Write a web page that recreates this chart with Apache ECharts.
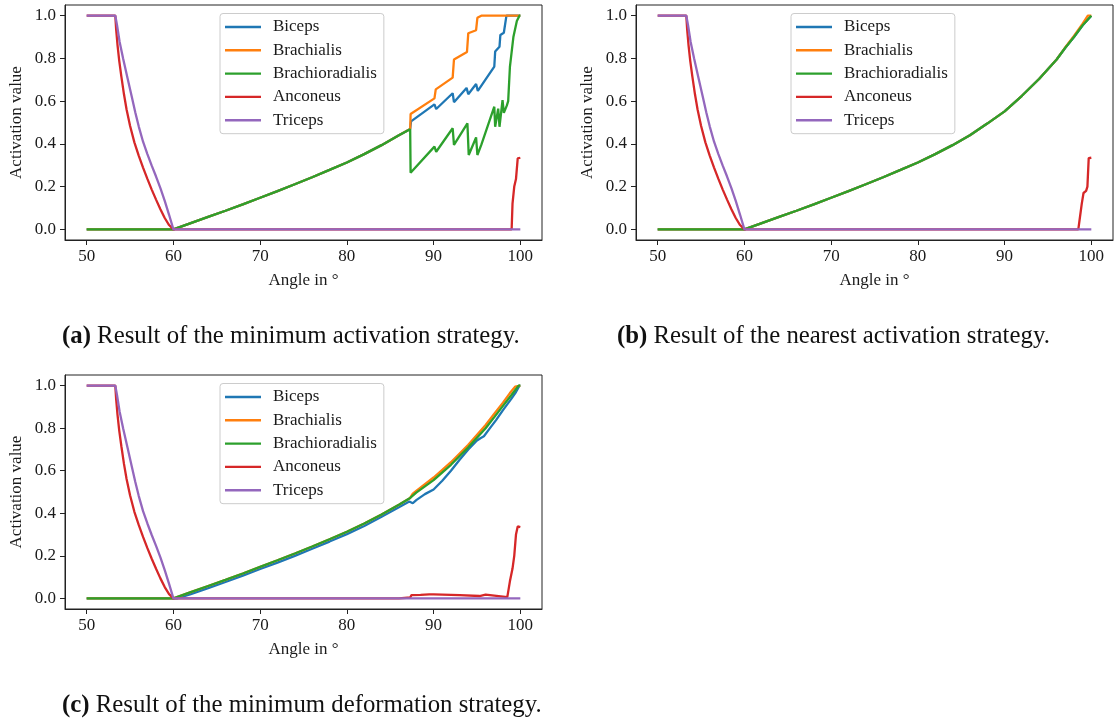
<!DOCTYPE html>
<html>
<head>
<meta charset="utf-8">
<title>Muscle activation strategies</title>
<script src="https://cdn.jsdelivr.net/npm/echarts@6/dist/echarts.min.js"></script>
<style>
  html, body { margin: 0; padding: 0; background: #ffffff; }
  #chart { width: 1115px; height: 722px; }
</style>
</head>
<body>
<div id="chart"></div>
<script>
// ---- tick labels & names ----
const muscles = ['Biceps', 'Brachialis', 'Brachioradialis', 'Anconeus', 'Triceps'];
const colors = ['#1f77b4', '#ff7f0e', '#2ca02c', '#d62728', '#9467bd'];
const angleTicks = [50, 60, 70, 80, 90, 100];
const activationTicks = [0, 0.2, 0.4, 0.6, 0.8, 1.0];
const captions = [
  ['(a)', ' Result of the minimum activation strategy.'],
  ['(b)', ' Result of the nearest activation strategy.'],
  ['(c)', ' Result of the minimum deformation strategy.']
];

// ---- extensors: shared decline from full activation to zero ----
const tricepsAngle = [50, 53.3, 53.5, 53.8, 54.2, 54.7, 55.2, 55.6, 56.0, 56.5, 57.0, 57.5, 58.0, 58.5, 59.0, 59.5, 60, 100];
const tricepsValue = [1, 1, 0.955, 0.877, 0.8, 0.71, 0.62, 0.548, 0.482, 0.41, 0.352, 0.298, 0.247, 0.193, 0.133, 0.068, 0, 0];
const anconeusDropAngle = [50, 53.3, 53.4, 53.55, 53.75, 54.0, 54.3, 54.6, 55.0, 55.5, 56.0, 56.5, 57.0, 57.5, 58.0, 58.5, 59.0, 59.5, 60];
const anconeusDropValue = [1, 1, 0.935, 0.865, 0.79, 0.715, 0.632, 0.561, 0.485, 0.407, 0.345, 0.289, 0.236, 0.186, 0.139, 0.094, 0.053, 0.02, 0];

// ---- flexors: shared rise after 60 degrees ----
const riseAngle = [50, 60, 62, 64, 66, 68, 70, 72, 74, 76, 78, 80, 82, 84, 86];
const riseValue = [0, 0, 0.029, 0.058, 0.087, 0.117, 0.148, 0.179, 0.211, 0.244, 0.278, 0.313, 0.352, 0.394, 0.44];

// ---- (a) minimum activation ----
const bicepsTailAngleA = [87.3, 87.4, 90.1, 90.3, 92.2, 92.35, 93.8, 94.0, 94.9, 95.1, 96.0, 97.0, 97.1, 97.6, 97.7, 98.1, 98.4, 100];
const bicepsTailValueA = [0.47, 0.505, 0.585, 0.563, 0.637, 0.595, 0.662, 0.632, 0.68, 0.648, 0.702, 0.762, 0.832, 0.855, 0.91, 0.92, 1.0, 1.0];
const brachialisTailAngleA = [87.3, 87.35, 90.1, 90.25, 92.2, 92.35, 93.85, 94.0, 94.9, 95.05, 95.5, 100];
const brachialisTailValueA = [0.47, 0.54, 0.613, 0.655, 0.71, 0.795, 0.83, 0.918, 0.932, 0.99, 1.0, 1.0];
const brachioTailAngleA = [87.3, 87.35, 90.1, 90.3, 92.2, 92.35, 93.9, 94.05, 94.9, 95.05, 95.5, 97.0, 97.1, 97.45, 97.6, 97.95, 98.1, 98.45, 98.6, 98.8, 99.2, 99.6, 99.9, 100];
const brachioTailValueA = [0.468, 0.265, 0.387, 0.363, 0.473, 0.395, 0.496, 0.348, 0.43, 0.348, 0.395, 0.574, 0.48, 0.565, 0.48, 0.605, 0.545, 0.58, 0.6, 0.76, 0.9, 0.975, 1.0, 1.0];
const anconeusTailAngleA = [99.0, 99.1, 99.3, 99.5, 99.7, 100];
const anconeusTailValueA = [0, 0.12, 0.2, 0.235, 0.332, 0.335];

// ---- (b) nearest activation ----
const flexorTailAngleB = [88, 90, 92, 94, 96, 97, 98, 99, 100];
const flexorTailValueB = [0.495, 0.552, 0.625, 0.705, 0.795, 0.85, 0.9, 0.955, 1.0];
const brachialisTailAngleB = [88, 90, 92, 94, 96, 97, 98, 99, 99.6, 100];
const brachialisTailValueB = [0.495, 0.552, 0.625, 0.705, 0.795, 0.852, 0.905, 0.963, 1.0, 1.0];
const anconeusTailAngleB = [98.5, 98.7, 98.9, 99.1, 99.4, 99.55, 99.7, 100];
const anconeusTailValueB = [0, 0.06, 0.12, 0.17, 0.18, 0.2, 0.333, 0.335];

// ---- (c) minimum deformation ----
const bicepsAngleC = [50, 60, 60.4, 62, 64, 66, 68, 70, 72, 74, 76, 78, 80, 82, 84, 86, 87.2, 87.6, 88, 89, 90, 91, 92, 93, 94, 95, 95.4, 95.8, 96.5, 97.2, 98, 99, 99.5, 99.9, 100];
const bicepsValueC = [0, 0, 0, 0.02, 0.048, 0.077, 0.107, 0.138, 0.168, 0.2, 0.233, 0.267, 0.302, 0.34, 0.384, 0.428, 0.455, 0.447, 0.462, 0.49, 0.512, 0.553, 0.6, 0.652, 0.7, 0.742, 0.753, 0.762, 0.8, 0.838, 0.885, 0.94, 0.97, 1.0, 1.0];
const brachialisTailAngleC = [87.3, 87.6, 88, 90, 92, 94, 96, 97, 98, 98.8, 99.4, 100];
const brachialisTailValueC = [0.472, 0.492, 0.505, 0.568, 0.64, 0.722, 0.815, 0.868, 0.92, 0.965, 0.995, 1.0];
const brachioTailAngleC = [87.3, 88, 90, 92, 94, 96, 97, 98, 99, 99.8, 100];
const brachioTailValueC = [0.472, 0.497, 0.556, 0.628, 0.71, 0.8, 0.852, 0.905, 0.957, 1.0, 1.0];
const anconeusTailAngleC = [86, 86.2, 87.3, 87.45, 88.5, 89.5, 90, 93, 95.3, 95.45, 96, 98.5, 98.8, 99.1, 99.3, 99.5, 99.7, 100];
const anconeusTailValueC = [0, 0.003, 0.004, 0.015, 0.016, 0.019, 0.019, 0.015, 0.011, 0.019, 0.018, 0.006, 0.08, 0.14, 0.2, 0.3, 0.338, 0.335];

// ---- helpers ----
function pairs(angles, values) { return angles.map((a, i) => [a, values[i]]); }
function join() {
  let out = [];
  for (let i = 0; i < arguments.length; i += 2) out = out.concat(pairs(arguments[i], arguments[i + 1]));
  return out;
}

const panels = [
  [ // (a)
    join(riseAngle, riseValue, bicepsTailAngleA, bicepsTailValueA),
    join(riseAngle, riseValue, brachialisTailAngleA, brachialisTailValueA),
    join(riseAngle, riseValue, brachioTailAngleA, brachioTailValueA),
    join(anconeusDropAngle, anconeusDropValue, anconeusTailAngleA, anconeusTailValueA),
    pairs(tricepsAngle, tricepsValue)
  ],
  [ // (b)
    join(riseAngle, riseValue, flexorTailAngleB, flexorTailValueB),
    join(riseAngle, riseValue, brachialisTailAngleB, brachialisTailValueB),
    join(riseAngle, riseValue, flexorTailAngleB, flexorTailValueB),
    join(anconeusDropAngle, anconeusDropValue, anconeusTailAngleB, anconeusTailValueB),
    pairs(tricepsAngle, tricepsValue)
  ],
  [ // (c)
    pairs(bicepsAngleC, bicepsValueC),
    join(riseAngle, riseValue, brachialisTailAngleC, brachialisTailValueC),
    join(riseAngle, riseValue, brachioTailAngleC, brachioTailValueC),
    join(anconeusDropAngle, anconeusDropValue, anconeusTailAngleC, anconeusTailValueC),
    pairs(tricepsAngle, tricepsValue)
  ]
];

// ---- layout ----
const FONT = '"Liberation Serif", "Times New Roman", serif';
const INK = '#1a1a1a';
const gridBoxes = [
  { left: 65, top: 5, width: 477, height: 235 },
  { left: 636, top: 5, width: 477, height: 235 },
  { left: 65, top: 375, width: 477, height: 234 }
];
const captionPos = [[62, 324], [617, 324], [62, 693]];

const grids = [], xAxes = [], yAxes = [], legends = [], series = [], graphics = [];
gridBoxes.forEach((g, k) => {
  grids.push(Object.assign({ show: true, borderColor: '#222', borderWidth: 1, backgroundColor: 'transparent' }, g));
  xAxes.push({
    type: 'value', gridIndex: k, min: 47.5, max: 102.5,
    name: 'Angle in °', nameLocation: 'middle', nameGap: 32,
    nameTextStyle: { fontFamily: FONT, fontSize: 17, color: INK },
    axisLine: { show: true, onZero: false, lineStyle: { color: '#222', width: 1 } },
    axisTick: { show: true, length: 5, customValues: angleTicks, lineStyle: { color: '#222', width: 1 } },
    axisLabel: { customValues: angleTicks, margin: 8, fontFamily: FONT, fontSize: 17, color: INK },
    splitLine: { show: false }
  });
  yAxes.push({
    type: 'value', gridIndex: k, min: -0.05, max: 1.05,
    name: 'Activation value', nameLocation: 'middle', nameGap: 40, nameRotate: 90,
    nameTextStyle: { fontFamily: FONT, fontSize: 17, color: INK },
    axisLine: { show: true, onZero: false, lineStyle: { color: '#222', width: 1 } },
    axisTick: { show: true, length: 5, customValues: activationTicks, lineStyle: { color: '#222', width: 1 } },
    axisLabel: { customValues: activationTicks, margin: 9, fontFamily: FONT, fontSize: 17, color: INK,
                 formatter: v => v.toFixed(1) },
    splitLine: { show: false }
  });
  legends.push({
    data: muscles, orient: 'vertical', left: g.left + 155, top: g.top + 8.5,
    icon: 'rect', itemWidth: 36, itemHeight: 2.4, itemGap: 5.3,
    padding: [4.5, 7, 4.5, 5],
    borderColor: '#cccccc', borderWidth: 1, borderRadius: 3,
    backgroundColor: 'rgba(255,255,255,0.8)',
    selectedMode: false,
    textStyle: { fontFamily: FONT, fontSize: 17, color: INK, lineHeight: 18, padding: [0, 0, 0, 7] }
  });
  muscles.forEach((m, i) => {
    series.push({
      name: m, type: 'line', xAxisIndex: k, yAxisIndex: k,
      data: panels[k][i], showSymbol: false, symbol: 'none',
      lineStyle: { color: colors[i], width: 2.3 }, itemStyle: { color: colors[i] },
      animation: false, silent: true
    });
  });
  graphics.push({
    type: 'text', left: captionPos[k][0], top: captionPos[k][1],
    style: {
      text: '{b|' + captions[k][0] + '}{r|' + captions[k][1] + '}',
      rich: {
        b: { fontFamily: FONT, fontSize: 24.8, fontWeight: 'bold', fill: '#111' },
        r: { fontFamily: FONT, fontSize: 24.8, fill: '#111' }
      }
    }
  });
});

const chart = echarts.init(document.getElementById('chart'), null, { renderer: 'canvas' });
chart.setOption({
  animation: false,
  backgroundColor: '#ffffff',
  grid: grids, xAxis: xAxes, yAxis: yAxes, legend: legends,
  series: series, graphic: graphics
});
</script>
</body>
</html>
